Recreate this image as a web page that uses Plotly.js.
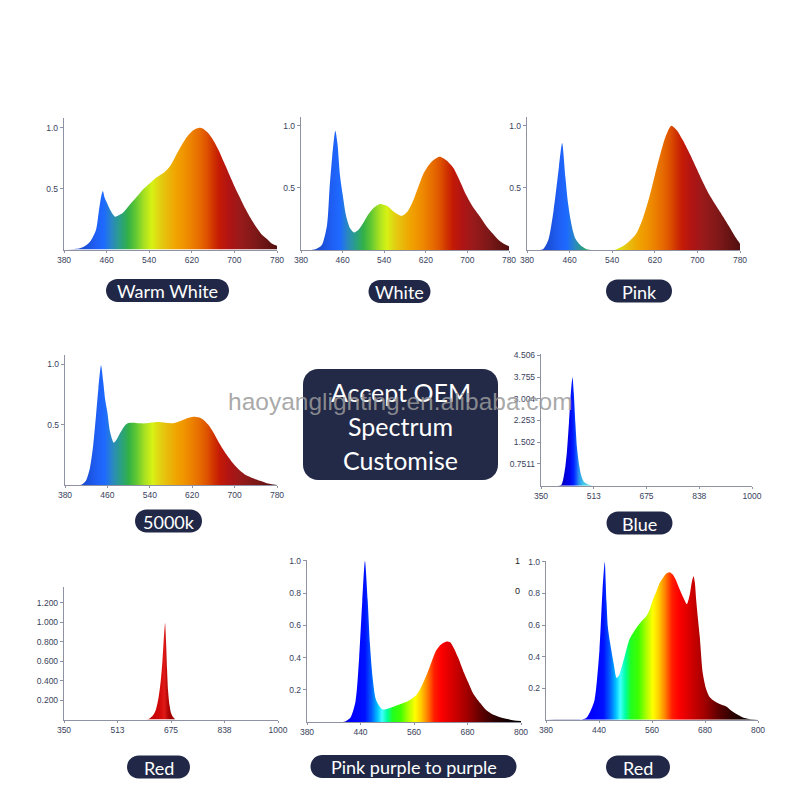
<!DOCTYPE html>
<html>
<head>
<meta charset="utf-8">
<script src="https://cdn.plot.ly/plotly-3.0.1.min.js"></script>
<style>
  html, body { margin: 0; padding: 0; background: #ffffff; }
  #chart { width: 800px; height: 800px; }
</style>
</head>
<body>
<div id="chart"></div>
<script>
// ---- Spectra: wavelength (nm) and relative intensity ----
const warmWhiteNm  = [380,400,410,420,430,440,445,450,453,456,460,465,470,476,482,490,500,510,520,530,540,550,560,570,580,590,600,610,620,630,636,642,650,660,670,680,690,700,710,720,730,740,750,760,770,780];
const warmWhiteVal = [0,0.005,0.01,0.03,0.07,0.16,0.3,0.44,0.48,0.43,0.39,0.34,0.3,0.27,0.28,0.3,0.35,0.4,0.45,0.5,0.54,0.58,0.61,0.64,0.69,0.77,0.85,0.92,0.97,0.995,1.0,0.99,0.96,0.9,0.82,0.72,0.62,0.52,0.43,0.34,0.26,0.19,0.13,0.09,0.05,0.03];

const whiteNm  = [380,400,410,420,430,435,440,446,450,455,460,467,475,482,490,500,510,520,532,545,555,565,574,585,596,605,615,625,635,647,660,673,685,698,710,724,737,749,760,770,780];
const whiteVal = [0,0,0.01,0.04,0.2,0.5,0.75,0.96,0.86,0.6,0.45,0.27,0.17,0.14,0.16,0.22,0.29,0.34,0.37,0.355,0.32,0.29,0.275,0.31,0.4,0.5,0.61,0.68,0.725,0.75,0.72,0.66,0.56,0.44,0.35,0.27,0.19,0.13,0.08,0.05,0.03];

const pinkNm  = [380,405,411,420,430,440,446,452,457,462,467,471,480,490,500,540,547,560,572,585,598,610,620,629,640,651,662,673,686,698,710,723,736,748,761,772,780];
const pinkVal = [0,0,0.01,0.08,0.32,0.67,0.86,0.59,0.38,0.24,0.14,0.09,0.04,0.01,0,0,0.005,0.03,0.07,0.13,0.26,0.43,0.6,0.75,0.91,1.0,0.96,0.88,0.77,0.66,0.55,0.44,0.35,0.27,0.18,0.1,0.05];

const k5000Nm  = [380,405,412,420,427,433,438,443,448,452,456,460,465,472,478,484,491,498,509,520,534,553,570,584,595,603,612,622,632,641,650,660,672,685,697,710,722,735,748,761,770,780];
const k5000Val = [0,0,0.005,0.04,0.14,0.32,0.55,0.8,0.99,0.86,0.7,0.6,0.44,0.35,0.38,0.43,0.48,0.51,0.515,0.51,0.51,0.52,0.515,0.51,0.525,0.54,0.555,0.565,0.56,0.54,0.5,0.435,0.34,0.25,0.18,0.12,0.08,0.055,0.035,0.015,0.006,0];

const blueNm  = [400,412,418,425,430,436,442,447,451,456,461,467,474,482,495,510];
const blueVal = [0,0.02,0.2,0.66,1.2,2.16,3.2,3.75,3.2,2.16,1.3,0.75,0.35,0.14,0.04,0];

const redNm  = [600,610,620,629,637,644,649,653,657,660,663,666,670,675,680,688];
const redVal = [0,0.01,0.04,0.1,0.22,0.4,0.6,0.82,0.99,0.8,0.52,0.3,0.16,0.07,0.03,0];

const pinkPurpleNm  = [320,400,407,418,429,437,444,450,456,461,467,474,482,491,500,512,527,542,555,565,573,580,588,595,603,610,620,633,641,648,659,670,681,693,708,723,738,753,770,785,800];
const pinkPurpleVal = [0,0,0.005,0.03,0.13,0.4,0.75,1.0,0.76,0.49,0.28,0.145,0.1,0.077,0.082,0.093,0.108,0.124,0.145,0.166,0.2,0.24,0.29,0.34,0.4,0.445,0.48,0.5,0.495,0.466,0.4,0.32,0.25,0.176,0.12,0.072,0.045,0.03,0.018,0.01,0.006];

const fullRedNm  = [320,400,411,420,430,441,448,453,457,460,465,473,480,486,492,498,509,524,535,547,555,562,570,577,585,592,600,607,615,622,630,639,646,650,654,657,660,664,668,675,682,690,700,713,728,743,755,766,780,800];
const fullRedVal = [0,0,0.01,0.05,0.125,0.44,0.82,1.0,0.75,0.59,0.49,0.36,0.265,0.285,0.34,0.4,0.51,0.58,0.62,0.655,0.7,0.76,0.815,0.865,0.9,0.925,0.935,0.92,0.88,0.83,0.78,0.733,0.8,0.87,0.91,0.87,0.76,0.64,0.53,0.295,0.2,0.146,0.12,0.1,0.084,0.05,0.03,0.014,0.005,0];

// ---- Tick values and labels ----
const visTickVals  = [380,460,540,620,700,780];
const visTickText  = ['380','460','540','620','700','780'];
const wideTickVals = [350,512.5,675,837.5,1000];
const wideTickText = ['350','513','675','838','1000'];
const growTickVals = [320,440,560,680,800];
const growTickText = ['380','440','560','680','800'];

const unitTickVals = [0.5,1.0];
const unitTickText = ['0.5','1.0'];
const blueTickVals = [0.7511,1.502,2.253,3.004,3.755,4.506];
const blueTickText = ['0.7511','1.502','2.253','3.004','3.755','4.506'];
const redTickVals  = [0.2,0.4,0.6,0.8,1.0,1.2];
const redTickText  = ['0.200','0.400','0.600','0.800','1.000','1.200'];
const fineTickVals = [0.2,0.4,0.6,0.8,1.0];
const fineTickText = ['0.2','0.4','0.6','0.8','1.0'];

const spectrumNames = ['Warm White','White','Pink','5000k','Blue','Red','Pink purple to purple','Red'];

// ---- Fill palettes: [wavelength, colour] ----
const mutedPalette = [
  [380,'#2f3aa8'],[420,'#1a4fd8'],[440,'#1f5ff5'],[455,'#1e6aff'],[470,'#2a88bf'],[485,'#2a9f86'],
  [500,'#32b048'],[515,'#62c832'],[530,'#a6e022'],[545,'#d6f214'],[560,'#e2d012'],[575,'#eab80a'],
  [590,'#f0a400'],[605,'#f09400'],[620,'#ec8000'],[635,'#e66a00'],[648,'#de5200'],[660,'#d03400'],
  [672,'#c41a06'],[690,'#b01414'],[710,'#9a1a1a'],[740,'#7e1818'],[765,'#621212'],[780,'#521010']
];
const vividPalette = [
  [380,'#000080'],[420,'#0000ff'],[450,'#0010ff'],[465,'#0060ff'],[478,'#00c0ff'],[488,'#40ffff'],
  [500,'#00ffa0'],[512,'#20ff20'],[530,'#40ff00'],[545,'#a0ff00'],[562,'#ffff00'],[575,'#ffd000'],
  [590,'#ff8000'],[605,'#ff2000'],[620,'#ff0000'],[650,'#d00000'],[680,'#a00000'],[710,'#600000'],
  [740,'#300000'],[770,'#100000'],[800,'#000000']
];
const bluePalette = [
  [400,'#000090'],[425,'#0000d8'],[440,'#0008f0'],[450,'#0020ff'],[458,'#1050ff'],[466,'#2a90f0'],
  [480,'#40c8e8'],[510,'#70e0e0']
];
const redPalette = [
  [600,'#c00000'],[640,'#d00808'],[655,'#e01818'],[660,'#c81010'],[670,'#a80000'],[690,'#900000']
];

// ---- Panel placement (pixels on the 800x800 page) ----
const panels = [
  {nm: warmWhiteNm,  val: warmWhiteVal,  pal: mutedPalette, box: [64,277,118,249.5],  xr: [380,780],  yr: [0,1.08],  xt: visTickVals,  xtt: visTickText,  yt: unitTickVals, ytt: unitTickText},
  {nm: whiteNm,      val: whiteVal,      pal: mutedPalette, box: [301,509,117,250],   xr: [380,780],  yr: [0,1.07],  xt: visTickVals,  xtt: visTickText,  yt: unitTickVals, ytt: unitTickText},
  {nm: pinkNm,       val: pinkVal,       pal: mutedPalette, box: [527,740,117,250],   xr: [380,780],  yr: [0,1.07],  xt: visTickVals,  xtt: visTickText,  yt: unitTickVals, ytt: unitTickText},
  {nm: k5000Nm,      val: k5000Val,      pal: mutedPalette, box: [65,277,355,485],    xr: [380,780],  yr: [0,1.075], xt: visTickVals,  xtt: visTickText,  yt: unitTickVals, ytt: unitTickText},
  {nm: blueNm,       val: blueVal,       pal: bluePalette,  box: [541,752,354,485.7], xr: [350,1000], yr: [0,4.55],  xt: wideTickVals, xtt: wideTickText, yt: blueTickVals, ytt: blueTickText},
  {nm: redNm,        val: redVal,        pal: redPalette,   box: [64,278,587,719.5],  xr: [350,1000], yr: [0,1.36],  xt: wideTickVals, xtt: wideTickText, yt: redTickVals,  ytt: redTickText},
  {nm: pinkPurpleNm, val: pinkPurpleVal, pal: vividPalette, box: [307,521,560,722],   xr: [320,800],  yr: [0,1.006], xt: growTickVals, xtt: growTickText, yt: fineTickVals, ytt: fineTickText},
  {nm: fullRedNm,    val: fullRedVal,    pal: vividPalette, box: [546,758,561,719.7], xr: [320,800],  yr: [0,1.006], xt: growTickVals, xtt: growTickText, yt: fineTickVals, ytt: fineTickText}
];

// Pill-shaped name tags: centre x, centre y, width
const tagBoxes = [[167.5,290.5,123],[399.5,291.5,62],[639,291,66],[168.5,521,67],[639.5,523,66],[158.5,767,63],[413.5,766.5,206],[638,767,64]];

const W = 800;
const px = v => v / W;
const py = v => 1 - v / W;

function gradient(pal) {
  const lo = pal[0][0], hi = pal[pal.length - 1][0];
  return {type: 'horizontal', start: lo, stop: hi,
          colorscale: pal.map(([w, c]) => [(w - lo) / (hi - lo), c])};
}

// rounded rectangle path in paper coordinates
function roundRect(x0, y0, x1, y1, r) {
  const k = 0.5523 * r;
  const P = (x, y) => px(x).toFixed(5) + ',' + py(y).toFixed(5);
  return 'M' + P(x0 + r, y0) +
    ' L' + P(x1 - r, y0) +
    ' C' + P(x1 - r + k, y0) + ' ' + P(x1, y0 + r - k) + ' ' + P(x1, y0 + r) +
    ' L' + P(x1, y1 - r) +
    ' C' + P(x1, y1 - r + k) + ' ' + P(x1 - r + k, y1) + ' ' + P(x1 - r, y1) +
    ' L' + P(x0 + r, y1) +
    ' C' + P(x0 + r - k, y1) + ' ' + P(x0, y1 - r + k) + ' ' + P(x0, y1 - r) +
    ' L' + P(x0, y0 + r) +
    ' C' + P(x0, y0 + r - k) + ' ' + P(x0 + r - k, y0) + ' ' + P(x0 + r, y0) + ' Z';
}

const axisColor = '#8e92a3';
const tickFont = {family: 'Liberation Sans, Arial, sans-serif', size: 8.5, color: '#3a3f5c'};

const traces = [];
const layout = {
  width: 800, height: 800,
  margin: {l: 0, r: 0, t: 0, b: 0},
  paper_bgcolor: '#ffffff', plot_bgcolor: 'rgba(0,0,0,0)',
  showlegend: false,
  shapes: [], annotations: []
};

panels.forEach((p, i) => {
  const n = i === 0 ? '' : String(i + 1);
  traces.push({
    type: 'scatter', mode: 'lines',
    x: p.nm, y: p.val,
    xaxis: 'x' + n, yaxis: 'y' + n,
    line: {width: 0, shape: 'spline', smoothing: 0.7},
    fill: 'tozeroy',
    fillgradient: gradient(p.pal),
    hoverinfo: 'skip'
  });
  const [x0, x1, yTop, yBot] = p.box;
  layout['xaxis' + n] = {
    domain: [px(x0), px(x1)], range: p.xr, anchor: 'y' + n,
    showgrid: false, zeroline: false, showline: true,
    linecolor: axisColor, linewidth: 1.2,
    ticks: 'outside', ticklen: 2, tickcolor: axisColor, tickwidth: 1,
    tickvals: p.xt, ticktext: p.xtt, tickfont: tickFont, tickangle: 0
  };
  layout['yaxis' + n] = {
    domain: [py(yBot), py(yTop)], range: p.yr, anchor: 'x' + n,
    showgrid: false, zeroline: false, showline: true,
    linecolor: axisColor, linewidth: 1.2,
    ticks: 'outside', ticklen: 3, tickcolor: axisColor, tickwidth: 1,
    tickvals: p.yt, ticktext: p.ytt, tickfont: tickFont
  };
});

// name tags
tagBoxes.forEach(([cx, cy, w], i) => {
  const h = 23;
  layout.shapes.push({
    type: 'path', xref: 'paper', yref: 'paper',
    path: roundRect(cx - w / 2, cy - h / 2, cx + w / 2, cy + h / 2, h / 2),
    fillcolor: '#212847', line: {width: 0}, layer: 'above'
  });
  layout.annotations.push({
    xref: 'paper', yref: 'paper', x: px(cx), y: py(cy + 0.5),
    xanchor: 'center', yanchor: 'middle', showarrow: false,
    text: spectrumNames[i],
    font: {family: 'Lato, Open Sans, sans-serif', size: 18, color: '#ffffff'}
  });
});

// central banner
layout.shapes.push({
  type: 'path', xref: 'paper', yref: 'paper',
  path: roundRect(303, 369, 498, 480, 15),
  fillcolor: '#232a48', line: {width: 0}, layer: 'above'
});
[['Accept OEM', 392], ['Spectrum', 426], ['Customise', 460]].forEach(([t, y]) => {
  layout.annotations.push({
    xref: 'paper', yref: 'paper', x: px(400.5), y: py(y),
    xanchor: 'center', yanchor: 'middle', showarrow: false, text: t,
    font: {family: 'Lato, Open Sans, sans-serif', size: 25, color: '#ffffff'}
  });
});

// stray digits at the right of the purple panel
[['1', 561], ['0', 591]].forEach(([t, y]) => {
  layout.annotations.push({
    xref: 'paper', yref: 'paper', x: px(517), y: py(y),
    xanchor: 'center', yanchor: 'middle', showarrow: false, text: t,
    font: {family: 'Liberation Sans, Arial, sans-serif', size: 9, color: '#222222'}
  });
});

// store watermark
layout.annotations.push({
  xref: 'paper', yref: 'paper', x: px(400), y: py(401),
  xanchor: 'center', yanchor: 'middle', showarrow: false,
  text: 'haoyanglighting.en.alibaba.com',
  font: {family: 'Liberation Sans, Arial, sans-serif', size: 24.5, color: 'rgba(154,154,154,0.86)'}
});

Plotly.newPlot('chart', traces, layout, {displayModeBar: false, staticPlot: true});
</script>
</body>
</html>
